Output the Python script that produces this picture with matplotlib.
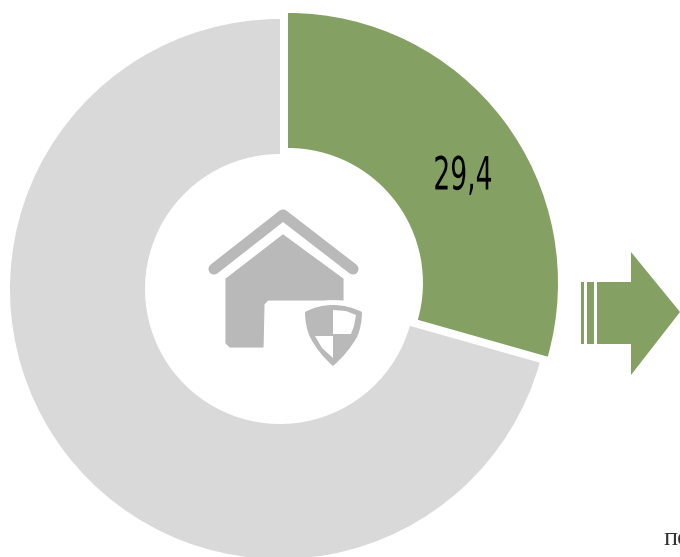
import matplotlib
matplotlib.use('Agg')
import matplotlib.pyplot as plt
from matplotlib.patches import Polygon, PathPatch
from matplotlib.path import Path
from matplotlib.patheffects import AbstractPathEffect
from matplotlib.transforms import Affine2D

W, H = 680, 557

values = [29.4, 70.6]
value_text = '29,4'
corner_text = 'по'
green = '#84a062'
grey = '#d9d9d9'
icon = '#b9b9b9'


def fy(y):
    # picture pixels count from the top
    return H - y


def pts(coords):
    return [(x, fy(y)) for x, y in coords]


class Squeeze(AbstractPathEffect):
    # no narrow font here, so the glyphs get squeezed around x = cx
    def __init__(self, cx, k):
        super().__init__()
        self.cx = cx
        self.k = k

    def draw_path(self, renderer, gc, tpath, affine, rgbFace=None):
        tr = affine + Affine2D().translate(-self.cx, 0).scale(self.k, 1).translate(self.cx, 0)
        renderer.draw_path(gc, tpath, tr, rgbFace)


fig = plt.figure(figsize=(6.8, 5.57), dpi=100)
ax = fig.add_axes([0, 0, 1, 1])

# grey part sits on its own centre, green one is pulled out by explode
ax.pie(values, colors=[green, grey], startangle=90, counterclock=False,
       center=(280, fy(289)), radius=270, explode=[10, 0],
       wedgeprops={'width': 135, 'edgecolor': 'none'})
ax.set_xlim(0, W)
ax.set_ylim(0, H)
ax.set_aspect('equal')
ax.axis('off')

ax.text(463, fy(177), value_text, fontsize=33, family='DejaVu Sans',
        ha='center', va='center', color='black', path_effects=[Squeeze(463, 0.58)])

# arrow on the right
for x0, x1 in [(581, 584), (587, 594)]:
    ax.add_patch(Polygon(pts([(x0, 282), (x1, 282), (x1, 344), (x0, 344)]), fc=green, ec='none'))
ax.add_patch(Polygon(pts([(597, 282), (631, 282), (631, 252), (680, 312),
                          (631, 375), (631, 344), (597, 344)]), fc=green, ec='none'))

# house icon
ax.plot(*zip(*pts([(214, 269), (283, 215), (353, 269)])), color=icon, lw=8,
        solid_capstyle='round', solid_joinstyle='round')
ax.add_patch(Polygon(pts([(283, 235), (343, 279), (343, 300), (268, 300), (264, 304),
                          (263, 347), (230, 347), (226, 343), (226, 279)]),
                     fc=icon, ec=icon, lw=0.8, joinstyle='round'))

# shield with a white halo behind it
shield = [(333, 305), (318, 305), (305, 312), (305, 326), (310, 337), (318, 353), (333, 366),
          (348, 353), (357, 337), (362, 326), (362, 312), (348, 305), (333, 305)]
codes = [Path.MOVETO, Path.CURVE3, Path.CURVE3, Path.CURVE3, Path.CURVE3, Path.CURVE3, Path.CURVE3,
         Path.CURVE3, Path.CURVE3, Path.CURVE3, Path.CURVE3, Path.CURVE3, Path.CURVE3]
ax.add_patch(PathPatch(Path(pts(shield), codes), fc='white', ec='white', lw=7, zorder=3))
ax.add_patch(PathPatch(Path(pts(shield), codes), fc=icon, ec='none', zorder=3))
# white quarters of the shield
ax.add_patch(Polygon(pts([(333, 310), (346, 311), (356, 315), (354, 326), (351, 334), (333, 334)]),
                     fc='white', ec='none', zorder=4))
ax.add_patch(Polygon(pts([(315, 336), (333, 336), (333, 358), (322, 348)]), fc='white', ec='none', zorder=4))

# text cut off by the corner, same as in the source picture
ax.text(663, fy(545), corner_text, fontsize=19, family='Liberation Serif', ha='left', va='baseline',
        color='#333333')

fig.savefig('out.png', dpi=100, facecolor='white')
